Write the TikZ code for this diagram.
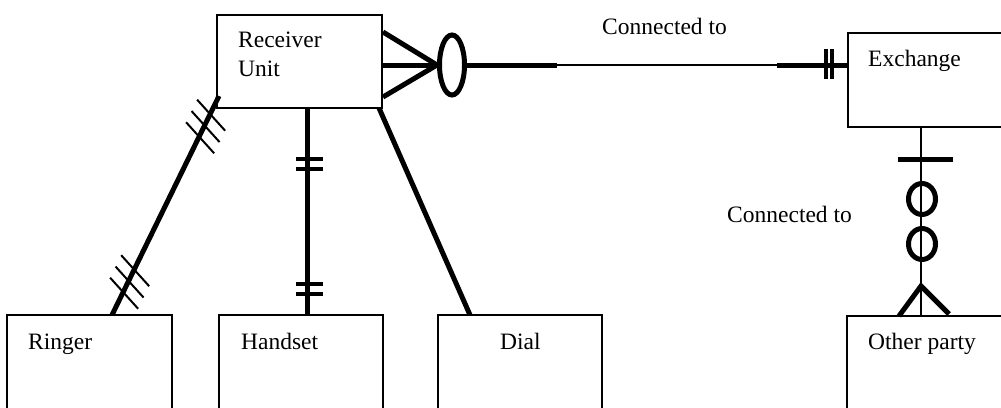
\documentclass[tikz,border=0pt]{standalone}
\usepackage{fontspec}
\setmainfont{Liberation Serif}
\usetikzlibrary{calc,shapes.geometric}
\begin{document}
\begin{tikzpicture}[x=1pt,y=-1pt,
  entity/.style={draw, line width=1.8pt, rectangle, inner sep=0pt, outer sep=0pt, anchor=north west},
  lbl/.style={anchor=base west, inner sep=0pt, font=\fontsize{23.5}{28}\selectfont},
  heavy/.style={line width=5pt},
  link/.style={line width=2pt},
  tick/.style={line width=2pt},
  bar/.style={line width=3.5pt},
  ring/.style={draw, ellipse, line width=5pt, inner sep=0pt, outer sep=0pt},
]
\clip (0,0) rectangle (1001,407);

% entities
\node[entity, minimum width=165pt, minimum height=93pt]  (rcv)   at (217,15)  {};
\node[entity, minimum width=180pt, minimum height=94pt]  (exch)  at (848,33)  {};
\node[entity, minimum width=165pt, minimum height=120pt] (ring)  at (7,315)   {};
\node[entity, minimum width=164pt, minimum height=120pt] (hand)  at (219,315) {};
\node[entity, minimum width=164pt, minimum height=120pt] (dial)  at (438,315) {};
\node[entity, minimum width=180pt, minimum height=120pt] (other) at (847,316) {};

% entity names
\node[lbl] (rcvA)   at (238,47)  {Receiver};
\node[lbl] (rcvB)   at (238,76)  {Unit};
\node[lbl] (exchT)  at (868,66)  {Exchange};
\node[lbl] (ringT)  at (28,349)  {Ringer};
\node[lbl] (handT)  at (241,349) {Handset};
\node[lbl] (dialT)  at (500,349) {Dial};
\node[lbl] (otherT) at (868,349) {Other party};

% relationship names
\node[lbl] (rel1) at (602,34)  {Connected to};
\node[lbl] (rel2) at (727,222) {Connected to};

% Receiver Unit -- Exchange: zero-or-many to exactly one
\coordinate (fork) at (437,65);
\node[ring, minimum width=25pt, minimum height=60pt] (opt) at (452,65) {};
\draw[heavy] ($(rcv.north east)+(1,17)$) -- (fork);
\draw[heavy] ($(rcv.north east)+(1,50)$) -- (fork);
\draw[heavy] ($(rcv.north east)+(1,82)$) -- (fork);
\coordinate (exIn) at ($(exch.north west)+(0,32)$);
\coordinate (m1) at (557,65);
\coordinate (m2) at (777,65);
\draw[heavy] (opt.east) -- (m1);
\draw[link] (m1) -- (m2);
\draw[heavy] (m2) -- (exIn);
\draw[bar] ($(exIn)+(-22,-16)$) -- ++(0,30);
\draw[bar] ($(exIn)+(-16,-16)$) -- ++(0,30);

% Exchange -- Other party: exactly one to zero-or-many
\coordinate (exOut) at ($(exch.south west)+(73,0)$);
\coordinate (opIn) at ($(other.north west)+(74,0)$);
\draw[link] (exOut) -- (opIn);
\draw[heavy] (898,159) -- (953,159);
\node[ring, minimum width=27pt, minimum height=31pt] (o1) at (922,199) {};
\node[ring, minimum width=27pt, minimum height=31pt] (o2) at (922,244) {};
\draw[heavy, line join=miter] ($(opIn)+(-22,0)$) -- ($(opIn)+(0,-30)$) -- ($(opIn)+(28,-2)$);

% Receiver Unit -- Ringer
\coordinate (rA) at ($(rcv.south west)+(2,-12)$);
\coordinate (rB) at ($(ring.north west)+(105,0)$);
\draw[heavy] (rA) -- (rB);
\foreach \s in {0.083,0.135,0.186,0.793,0.845,0.896}
  \draw[tick] ($(rA)!\s!(rB)+(-13,-14.5)$) -- ++(28,31);

% Receiver Unit -- Handset
\coordinate (hA) at ($(rcv.south west)+(90,0)$);
\coordinate (hB) at ($(hand.north west)+(88,0)$);
\draw[heavy] (hA) -- (hB);
\foreach \y in {159,169,284,294}
  \draw[bar] (296,\y) -- (323,\y);

% Receiver Unit -- Dial
\draw[heavy] ($(rcv.south east)+(-3,0)$) -- ($(dial.north west)+(32,0)$);
\end{tikzpicture}
\end{document}
